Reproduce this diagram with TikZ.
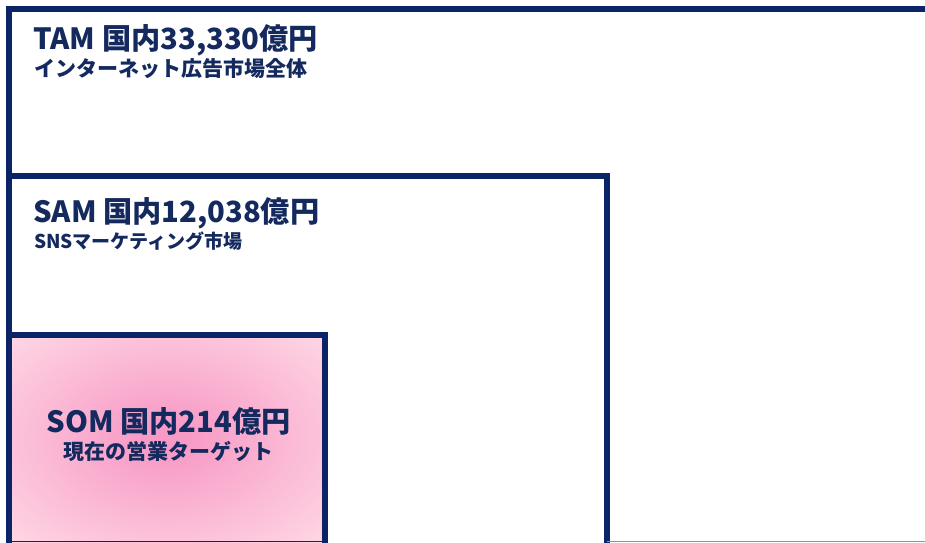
\documentclass[tikz,border=0pt]{standalone}
\usepackage{fontspec}
\setmainfont{Noto Sans CJK JP}
\definecolor{navy}{HTML}{0B2466}
\definecolor{txt}{HTML}{14295E}
\definecolor{pinkc}{HTML}{F79AC5}
\definecolor{pinke}{HTML}{FFDCE7}
\pgfdeclareradialshading{pinkrad}{\pgfpoint{0bp}{0bp}}{color(0bp)=(pinkc); color(3bp)=(pinkc); color(38bp)=(pinke); color(50bp)=(pinke)}
\tikzset{
  mbox/.style={draw=navy, line width=6pt},
  big/.style={font=\fontsize{29.2}{32}\selectfont\bfseries, text=txt, inner sep=0pt},
  sub/.style={font=\fontsize{21}{22}\selectfont\bfseries, text=txt, inner sep=0pt},
  subs/.style={font=\fontsize{19}{20}\selectfont\bfseries, text=txt, inner sep=0pt},
}
\begin{document}
\begin{tikzpicture}[x=1pt,y=-1pt]
\useasboundingbox (0,0) rectangle (925,542);
\fill[white] (0,0) rectangle (925,542);
\clip (0,0) rectangle (925,542);
% TAM
\draw[mbox] (8.5,8.5) rectangle (940,560);
% SAM
\draw[mbox] (8.5,175.5) rectangle (606.5,560);
% SOM
\shade[shading=pinkrad] (8.5,335) rectangle (324.5,542);
\draw[mbox] (8.5,335) rectangle (324.5,560);
\draw[navy, line width=1pt] (8.5,541.5) -- (324.5,541.5);
\draw[navy!50, line width=1pt] (606.5,541.5) -- (925,541.5);
% texts
\node[big, anchor=base west] (tam1) at (33,49) {TAM 国内33,330億円};
\node[sub, anchor=base west] (tam2) at (34,76.5) {インターネット広告市場全体};
\node[big, anchor=base west] (sam1) at (33,222.5) {SAM 国内12,038億円};
\node[subs, anchor=base west] (sam2) at (34,248) {SNSマーケティング市場};
\node[big, anchor=base] (som1) at (168.5,432) {SOM 国内214億円};
\node[sub, anchor=base] (som2) at (168,459.5) {現在の営業ターゲット};
\end{tikzpicture}
\end{document}
